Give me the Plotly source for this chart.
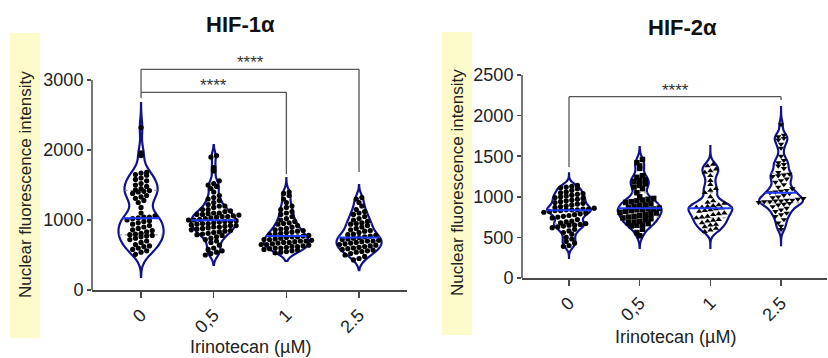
import numpy as np
import plotly.graph_objects as go

W, H = 828, 358

# ---------------- data ----------------
categories = ["0", "0,5", "1", "2.5"]

hif1_0 = [2320, 1960, 1920, 1680, 1670, 1650, 1640, 1600, 1580, 1560, 1520, 1500, 1480, 1450,
          1430, 1420, 1410, 1400, 1380, 1350, 1330, 1310, 1280, 1250, 1180, 1100, 1060, 1040,
          1040, 1030, 1020, 1000, 990, 980, 960, 940, 920, 900, 880, 860, 850, 830, 810, 800,
          790, 780, 770, 760, 740, 720, 700, 680, 650, 630, 620, 600, 580, 560, 540, 510]
hif1_05 = [1920, 1900, 1750, 1700, 1560, 1520, 1500, 1480, 1450, 1400, 1350, 1320, 1300, 1280,
           1250, 1220, 1200, 1200, 1180, 1150, 1150, 1130, 1120, 1100, 1100, 1090, 1080, 1080,
           1070, 1060, 1050, 1050, 1040, 1030, 1020, 1010, 1000, 1000, 990, 980, 980, 970, 960,
           950, 950, 940, 930, 920, 920, 910, 900, 900, 890, 880, 870, 860, 850, 840, 830, 820,
           810, 800, 790, 780, 760, 740, 720, 700, 680, 640, 600, 580, 560, 540, 520, 500]
hif1_1 = [1400, 1380, 1350, 1300, 1250, 1200, 1180, 1150, 1120, 1100, 1080, 1050, 1020, 1000,
          980, 960, 950, 940, 920, 900, 880, 870, 860, 850, 840, 830, 820, 810, 800, 790, 780,
          770, 760, 760, 750, 740, 730, 720, 720, 710, 700, 700, 690, 680, 680, 670, 660, 650,
          650, 640, 630, 620, 620, 610, 600, 600, 590, 580, 570, 560, 550, 540, 530]
hif1_25 = [1320, 1300, 1250, 1200, 1150, 1120, 1100, 1080, 1050, 1020, 1000, 980, 960, 950, 940,
           920, 900, 880, 860, 850, 840, 820, 800, 790, 780, 770, 760, 750, 740, 730, 720, 710,
           700, 700, 690, 680, 670, 660, 650, 640, 630, 620, 610, 600, 590, 580, 570, 560, 550,
           540, 520, 500, 480, 450, 430]

hif2_0 = [1140, 1130, 1120, 1110, 1100, 1080, 1060, 1050, 1040, 1030, 1020, 1010, 1000, 990, 980,
          970, 960, 950, 940, 930, 920, 910, 900, 890, 880, 870, 860, 850, 850, 840, 840, 840,
          830, 830, 820, 810, 800, 790, 780, 770, 760, 750, 740, 720, 700, 690, 680, 670, 660,
          650, 650, 640, 630, 620, 600, 580, 560, 540, 500, 480, 450, 430, 400, 390]
hif2_05 = [1460, 1420, 1380, 1350, 1260, 1240, 1210, 1200, 1190, 1160, 1140, 1120, 1100, 1050,
           1000, 980, 970, 960, 950, 940, 930, 920, 900, 890, 880, 870, 860, 850, 850, 840, 840,
           830, 820, 810, 800, 790, 780, 770, 760, 750, 740, 730, 720, 700, 690, 680, 670, 660,
           650, 640, 600, 560, 520]
hif2_1 = [1400, 1380, 1340, 1320, 1300, 1260, 1200, 1150, 1100, 1080, 1050, 1000, 950, 930, 920,
          900, 890, 880, 870, 870, 860, 850, 840, 830, 820, 800, 790, 780, 760, 750, 740, 720,
          710, 700, 680, 660, 650, 630, 610, 590, 570]
hif2_25 = [1890, 1760, 1740, 1720, 1700, 1650, 1600, 1500, 1450, 1420, 1400, 1380, 1350, 1300,
           1280, 1270, 1260, 1250, 1220, 1200, 1180, 1150, 1120, 1100, 1080, 1070, 1060, 1050,
           1040, 1020, 1000, 990, 980, 970, 960, 960, 950, 950, 940, 940, 930, 920, 910, 900,
           880, 860, 840, 820, 800, 780, 760, 720, 680, 640, 600]

hif1_groups = [hif1_0, hif1_05, hif1_1, hif1_25]
hif2_groups = [hif2_0, hif2_05, hif2_1, hif2_25]

hif1_bw = [120, 70, 70, 75]
hif2_bw = [45, 60, 55, 55]
hif1_span = [[186, 2670], [357, 2070], [414, 1600], [285, 1500]]
hif2_span = [[246, 1290], [370, 1613], [370, 1638], [406, 2106]]

hif2_symbols = ["circle", "square", "triangle-up", "triangle-down"]

# ---------------- style ----------------
NAVY = "#12128a"
MED = "#1f3cff"
AX = "#4a4a4a"
FONT = "Liberation Sans, Arial, sans-serif"
VW = 0.62

panels = [
    dict(groups=hif1_groups, bw=hif1_bw, span=hif1_span, symbols=["circle"] * 4,
         xa="x", ya="y", xdom=[92 / W, 407 / W], xr=[-0.675, 3.66],
         ydom=[68 / H, (H - 55.5) / H], yr=[0, 3350], yticks=[0, 1000, 2000, 3000], ytop=3000),
    dict(groups=hif2_groups, bw=hif2_bw, span=hif2_span, symbols=hif2_symbols,
         xa="x2", ya="y2", xdom=[522 / W, 827 / W], xr=[-0.665, 3.65],
         ydom=[80 / H, 283 / H], yr=[0, 2500], yticks=[0, 500, 1000, 1500, 2000, 2500], ytop=2500),
]


def kde(vals, bw, grid):
    u = (grid[:, None] - vals[None, :]) / bw
    return np.exp(-0.5 * u ** 2).sum(axis=1)


def swarm(vals, dy, dx):
    v = np.sort(np.asarray(vals, float))
    bins = np.floor(v / dy)
    xs = np.zeros_like(v)
    for b in np.unique(bins):
        idx = np.where(bins == b)[0]
        n = len(idx)
        xs[idx] = (np.arange(n) - (n - 1) / 2) * dx
    return xs, v


fig = go.Figure()

for p in panels:
    pxx = (p["xdom"][1] - p["xdom"][0]) * W / (p["xr"][1] - p["xr"][0])
    pxy = (p["ydom"][1] - p["ydom"][0]) * H / (p["yr"][1] - p["yr"][0])
    for i, vals in enumerate(p["groups"]):
        arr = np.asarray(vals, float)
        bw = p["bw"][i]
        lo, hi = p["span"][i]
        fig.add_trace(go.Violin(
            y=arr, x0=i, width=VW, bandwidth=bw, span=[lo, hi], spanmode="manual",
            points=False, line=dict(color=NAVY, width=2.2), fillcolor="rgba(255,255,255,0)",
            scalemode="width", showlegend=False, hoverinfo="skip",
            xaxis=p["xa"], yaxis=p["ya"]))
        grid = np.linspace(lo, hi, 600)
        kmax = kde(arr, bw, grid).max()
        q1, med, q3 = np.percentile(arr, [25, 50, 75])
        for q in (q1, q3):
            h = VW / 2 * kde(arr, bw, np.array([q]))[0] / kmax
            fig.add_trace(go.Scatter(x=[i - h, i + h], y=[q, q], mode="lines",
                                     line=dict(color="#8a8a8a", width=1, dash="dot"),
                                     showlegend=False, hoverinfo="skip",
                                     xaxis=p["xa"], yaxis=p["ya"]))
        xs, ys = swarm(arr, 5.0 / pxy, 5.6 / pxx)
        sym = p["symbols"][i]
        fig.add_trace(go.Scatter(x=i + xs, y=ys, mode="markers",
                                 marker=dict(color="black", size=5.5 if sym != "circle" else 5.2,
                                             symbol=sym),
                                 showlegend=False, hoverinfo="skip",
                                 xaxis=p["xa"], yaxis=p["ya"]))
        h = VW / 2 * kde(arr, bw, np.array([med]))[0] / kmax
        fig.add_trace(go.Scatter(x=[i - h, i + h], y=[med, med], mode="lines",
                                 line=dict(color=MED, width=2),
                                 showlegend=False, hoverinfo="skip",
                                 xaxis=p["xa"], yaxis=p["ya"]))

axis_common = dict(showgrid=False, zeroline=False, ticks="outside", tickcolor=AX,
                   tickwidth=1.5, linecolor=AX, linewidth=1.5, automargin=False,
                   tickfont=dict(family=FONT, size=18, color="#222"))

for k, p in enumerate(panels):
    sfx = "" if k == 0 else "2"
    fig.layout["xaxis" + sfx] = dict(domain=p["xdom"], range=p["xr"], type="linear",
                                     tickvals=[0, 1, 2, 3], ticktext=categories, tickangle=-45,
                                     showline=True, ticklen=6, anchor="y" + sfx, **axis_common)
    fig.layout["yaxis" + sfx] = dict(domain=p["ydom"], range=p["yr"], tickvals=p["yticks"],
                                     showline=False, ticklen=4, anchor="x" + sfx, **axis_common)
    # y axis line (stops at top tick)
    fig.add_shape(type="line", xref="x" + sfx + " domain", yref="y" + sfx,
                  x0=0, x1=0, y0=0, y1=p["ytop"], line=dict(color=AX, width=1.5))

# significance brackets
BR = dict(color="#555", width=1.3)
brackets = [
    ("x", "y", [(0, 2740, 0, 2824), (0, 2824, 2, 2824), (2, 2824, 2, 1657)]),
    ("x", "y", [(0, 2824, 0, 3152), (0, 3152, 3, 3152), (3, 3152, 3, 1686)]),
    ("x2", "y2", [(0, 1367, 0, 2233), (0, 2233, 3, 2233), (3, 2233, 3, 2192)]),
]
for xr_, yr_, segs in brackets:
    for x0, y0, x1, y1 in segs:
        fig.add_shape(type="line", xref=xr_, yref=yr_, x0=x0, y0=y0, x1=x1, y1=y1, line=BR)

stars = [("x", "y", 1, 2824), ("x", "y", 1.5, 3152), ("x2", "y2", 1.5, 2233)]
for xr_, yr_, xs_, ys_ in stars:
    fig.add_annotation(xref=xr_, yref=yr_, x=xs_, y=ys_, text="****", showarrow=False,
                       xanchor="center", yanchor="bottom", yshift=-5,
                       font=dict(family=FONT, size=17, color="#333"))

# yellow label backgrounds
for x0, x1, y0, y1 in [(10, 40, 33, 338), (442, 472, 32, 335)]:
    fig.add_shape(type="rect", xref="paper", yref="paper", x0=x0 / W, x1=x1 / W,
                  y0=1 - y1 / H, y1=1 - y0 / H, fillcolor="#fdfbc9", line=dict(width=0),
                  layer="below")

for cx, cy in [(25, 185), (457, 183)]:
    fig.add_annotation(xref="paper", yref="paper", x=cx / W, y=1 - cy / H,
                       xanchor="center", yanchor="middle",
                       text="Nuclear fluorescence intensity", textangle=-90, showarrow=False,
                       font=dict(family=FONT, size=17, color="#222"))

for cx, cy in [(250, 347), (675, 337)]:
    fig.add_annotation(xref="paper", yref="paper", x=cx / W, y=1 - cy / H,
                       xanchor="center", yanchor="middle",
                       text="Irinotecan (µM)", showarrow=False,
                       font=dict(family=FONT, size=18, color="#222"))

for cx, cy, t in [(240, 25, "HIF-1α"), (682, 27, "HIF-2α")]:
    fig.add_annotation(xref="paper", yref="paper", x=cx / W, y=1 - cy / H,
                       xanchor="center", yanchor="middle",
                       text="<b>" + t + "</b>", showarrow=False,
                       font=dict(family=FONT, size=22, color="#111"))

fig.update_layout(width=W, height=H, margin=dict(l=0, r=0, t=0, b=0, pad=0, autoexpand=False),
                  paper_bgcolor="white", plot_bgcolor="white", violinmode="overlay",
                  showlegend=False)

fig.write_html("out.html", config={"displayModeBar": False, "staticPlot": True},
               post_script="document.body.style.margin='0';document.body.style.overflow='hidden';")
